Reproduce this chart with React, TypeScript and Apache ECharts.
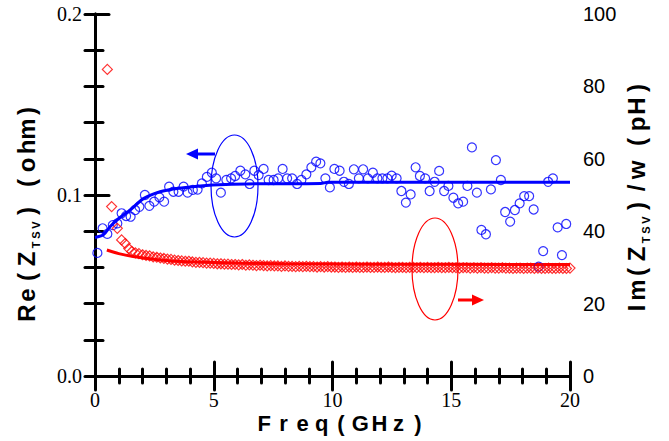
import React, { useEffect, useRef } from "react";
import * as echarts from "echarts";

// Re(Z_TSV) measured points [GHz, ohm]
const RE_POINTS: [number, number][] = [
  [0.1, 0.068], [0.32, 0.0816], [0.52, 0.0785], [0.75, 0.0834], [0.94, 0.0843],
  [1.12, 0.0899], [1.31, 0.0884], [1.5, 0.088], [1.69, 0.0917], [1.87, 0.0935],
  [2.1, 0.1], [2.29, 0.094], [2.49, 0.0963], [2.71, 0.0987], [2.91, 0.0963],
  [3.12, 0.1046], [3.3, 0.1018], [3.52, 0.1018], [3.73, 0.1046], [3.9, 0.1013],
  [4.12, 0.1028], [4.32, 0.103], [4.5, 0.1064], [4.71, 0.11], [4.92, 0.1123],
  [5.1, 0.1092], [5.3, 0.1013], [5.53, 0.1083], [5.73, 0.1092], [5.9, 0.1105],
  [6.12, 0.1134], [6.33, 0.1114], [6.51, 0.1061], [6.71, 0.1134], [6.89, 0.111],
  [7.1, 0.1144], [7.31, 0.1083], [7.52, 0.1083], [7.71, 0.1092], [7.9, 0.1144],
  [8.09, 0.1092], [8.3, 0.1092], [8.51, 0.1061], [8.69, 0.1083], [8.9, 0.1114],
  [9.11, 0.1153], [9.31, 0.1184], [9.49, 0.1175], [9.7, 0.1092], [9.89, 0.1042],
  [10.08, 0.1144], [10.3, 0.1134], [10.48, 0.1073], [10.69, 0.1061], [10.9, 0.1142],
  [11.11, 0.1092], [11.29, 0.1142], [11.49, 0.1092], [11.7, 0.1123], [11.89, 0.1092],
  [12.1, 0.1092], [12.31, 0.1092], [12.49, 0.1107], [12.7, 0.1092], [12.9, 0.1022],
  [13.09, 0.0958], [13.29, 0.1003], [13.5, 0.1153], [13.68, 0.1105], [13.9, 0.1092],
  [14.09, 0.1022], [14.3, 0.1073], [14.49, 0.1133], [14.7, 0.1022], [14.88, 0.105],
  [15.09, 0.0985], [15.29, 0.0954], [15.5, 0.0963], [15.68, 0.105], [15.87, 0.1263],
  [16.08, 0.1013], [16.27, 0.0807], [16.46, 0.0783], [16.67, 0.1031], [16.88, 0.1193],
  [17.09, 0.1083], [17.27, 0.0906], [17.48, 0.0853], [17.68, 0.0917], [17.88, 0.0954],
  [18.07, 0.0994], [18.28, 0.0994], [18.47, 0.092], [18.68, 0.0604], [18.87, 0.069],
  [19.08, 0.1073], [19.28, 0.1092], [19.48, 0.0821], [19.66, 0.0668], [19.84, 0.084],
];

// Re fit curve [GHz, ohm]
const RE_FIT: [number, number][] = [
  [0, 0.0765], [0.35, 0.078], [0.63, 0.0825], [1.0, 0.087], [1.48, 0.0917],
  [2.04, 0.098], [2.74, 0.1018], [3.45, 0.1036], [4.43, 0.105], [5.5, 0.1058],
  [7, 0.1062], [9.5, 0.1064], [9.8, 0.107], [20, 0.107],
];

// Im(Z_TSV)/w low-frequency points [GHz, pH]
const IM_EARLY: [number, number][] = [
  [0.52, 84.7], [0.7, 46.8], [0.94, 40.8], [1.12, 37.6], [1.27, 36.6], [1.42, 35.2],
];

// Im(Z_TSV)/w sweep: start, step (GHz) and values (pH)
const IM_START = 1.55;
const IM_STEP = 0.15;
const IM_VALUES: number[] = [
  34.4, 34.0, 33.8, 33.5, 33.3, 33.2, 32.9, 32.8, 32.6, 32.5,
  32.3, 32.2, 32.0, 31.9, 31.8, 31.7, 31.7, 31.5, 31.4, 31.4,
  31.3, 31.2, 31.2, 31.1, 31.0, 31.0, 30.9, 30.9, 30.8, 30.8,
  30.7, 30.8, 30.6, 30.7, 30.6, 30.5, 30.6, 30.5, 30.4, 30.5,
  30.4, 30.4, 30.3, 30.4, 30.3, 30.3, 30.2, 30.3, 30.2, 30.3,
  30.2, 30.2, 30.1, 30.2, 30.1, 30.2, 30.1, 30.1, 30.0, 30.1,
  30.0, 30.1, 30.0, 30.1, 30.0, 30.0, 30.1, 30.0, 30.0, 30.1,
  30.0, 30.0, 30.1, 30.0, 29.9, 30.0, 30.0, 29.9, 30.0, 30.0,
  29.9, 30.0, 29.9, 30.0, 29.9, 29.9, 30.0, 29.9, 29.9, 30.0,
  29.9, 29.9, 29.8, 29.9, 29.9, 29.8, 29.9, 29.8, 29.9, 29.8,
  29.8, 29.9, 29.8, 29.8, 29.9, 29.8, 29.8, 29.7, 29.8, 29.8,
  29.7, 29.8, 29.8, 29.7, 29.8, 29.7, 29.7, 29.8, 29.7, 29.7,
  29.8, 29.7, 29.7, 29.8,
];

// Im fit curve [GHz, pH]
const IM_FIT: [number, number][] = [
  [0.5, 34.8], [1.0, 33.8], [1.6, 33.0], [2.4, 32.3], [3.2, 31.8],
  [4.7, 31.4], [6, 31.2], [8, 31.0], [12, 30.9], [20, 30.8],
];

const X_TICKS_MAX = 20;
const LEFT_MAX = 0.2;
const RIGHT_MAX = 100;

const BLUE = "#0000ff";
const RED = "#ff0000";

function titleRich(color: string, size: number, w: number) {
  return {
    c: {
      fontSize: size, fontWeight: "bold", fontFamily: "Liberation Sans", color,
      width: w, align: "center", lineHeight: 30, verticalAlign: "middle",
    },
    s: {
      fontSize: 11, fontWeight: "bold", fontFamily: "Liberation Sans", color,
      width: 10, align: "center", lineHeight: 20, verticalAlign: "bottom",
    },
    sp: { width: 10, align: "center", lineHeight: 30, fontSize: size },
  };
}

export default function App() {
  const ref = useRef<HTMLDivElement>(null);
  useEffect(() => {
    document.body.style.margin = "0";
    const chart = echarts.init(ref.current!, null, { renderer: "svg" });
    const imPoints = [
      ...IM_EARLY,
      ...IM_VALUES.map((v, i) => [+(IM_START + i * IM_STEP).toFixed(2), v]),
    ];
    const axisLine = { show: true, lineStyle: { color: "#000", width: 3 } };
    const tickStyle = { color: "#000", width: 3, cap: "round" };
    const xBase = {
      type: "value", min: 0, max: X_TICKS_MAX, interval: 5,
      axisLine, splitLine: { show: false },
      axisTick: { show: true, inside: true, length: 14, lineStyle: tickStyle },
      minorTick: { show: true, splitNumber: 5, length: 7, lineStyle: tickStyle },
      minorSplitLine: { show: false },
    };
    chart.setOption({
      animation: false,
      backgroundColor: "#fff",
      grid: { left: 95, right: 99, top: 14, bottom: 65, containLabel: false },
      xAxis: [
        {
          ...xBase, position: "bottom",
          axisLabel: { fontFamily: "Liberation Serif", fontSize: 20, color: "#000", margin: 14 },
        },
        { ...xBase, position: "top", axisLabel: { show: false } },
      ],
      yAxis: [
        {
          type: "value", min: 0, max: LEFT_MAX, interval: 0.1, position: "left",
          axisLine, splitLine: { show: false },
          axisTick: { show: true, inside: true, length: 14, lineStyle: tickStyle },
          minorTick: { show: true, splitNumber: 5, length: 8, lineStyle: tickStyle },
          axisLabel: {
            fontFamily: "Liberation Serif", fontSize: 20, color: "#000", margin: 13,
            formatter: (v: number) => v.toFixed(1),
          },
        },
        {
          type: "value", min: 0, max: RIGHT_MAX, interval: 20, position: "right",
          axisLine, splitLine: { show: false },
          axisTick: { show: true, inside: true, length: 10, lineStyle: tickStyle },
          minorTick: { show: true, splitNumber: 2, length: 10, lineStyle: tickStyle },
          axisLabel: { fontFamily: "Liberation Sans", fontSize: 20, color: "#000", margin: 13 },
        },
      ],
      series: [
        {
          type: "line", data: RE_FIT, xAxisIndex: 0, yAxisIndex: 0, smooth: 0.3,
          showSymbol: false, lineStyle: { color: BLUE, width: 3 }, z: 2,
        },
        {
          type: "line", data: IM_FIT, xAxisIndex: 0, yAxisIndex: 1, smooth: 0.3,
          showSymbol: false, lineStyle: { color: RED, width: 3 }, z: 2,
        },
        {
          type: "scatter", data: RE_POINTS, xAxisIndex: 0, yAxisIndex: 0,
          symbol: "circle", symbolSize: 9, clip: false,
          itemStyle: { color: "rgba(0,0,0,0)", borderColor: BLUE, borderWidth: 1.2 }, z: 3,
        },
        {
          type: "scatter", data: imPoints, xAxisIndex: 0, yAxisIndex: 1,
          symbol: "diamond", symbolSize: 10, clip: false,
          itemStyle: { color: "rgba(0,0,0,0)", borderColor: RED, borderWidth: 1.2 }, z: 3,
        },
      ],
      graphic: [
        { type: "ellipse", shape: { cx: 234.5, cy: 186, rx: 23.5, ry: 51 },
          style: { fill: "none", stroke: BLUE, lineWidth: 1.2 }, z: 10 },
        { type: "line", shape: { x1: 215, y1: 154, x2: 196, y2: 154 },
          style: { stroke: BLUE, lineWidth: 3 }, z: 10 },
        { type: "polygon", shape: { points: [[186, 154], [198, 148.5], [198, 159.5]] },
          style: { fill: BLUE }, z: 10 },
        { type: "ellipse", shape: { cx: 435, cy: 269, rx: 23, ry: 51 },
          style: { fill: "none", stroke: RED, lineWidth: 1.2 }, z: 10 },
        { type: "line", shape: { x1: 458, y1: 300, x2: 473, y2: 300 },
          style: { stroke: RED, lineWidth: 3 }, z: 10 },
        { type: "polygon", shape: { points: [[484, 300], [472, 294.5], [472, 305.5]] },
          style: { fill: RED }, z: 10 },
        {
          type: "text", x: 26, y: 212, rotation: Math.PI / 2, z: 10,
          style: {
            text: "{c|R}{c|e}{c|(}{c|Z}{s|T}{s|S}{s|V}{c|)}{sp| }{c|(}{c|o}{c|h}{c|m}{c|)}",
            rich: titleRich(BLUE, 24, 18), align: "center", verticalAlign: "middle",
          },
        },
        {
          type: "text", x: 636, y: 198, rotation: Math.PI / 2, z: 10,
          style: {
            text: "{c|I}{c|m}{c|(}{c|Z}{s|T}{s|S}{s|V}{c|)}{c|/}{c|w}{sp| }{c|(}{c|p}{c|H}{c|)}",
            rich: titleRich(RED, 24, 18), align: "center", verticalAlign: "middle",
          },
        },
        {
          type: "text", x: 341, y: 423, z: 10,
          style: {
            text: "{c|F}{c|r}{c|e}{c|q}{c|(}{c|G}{c|H}{c|z}{c|)}",
            rich: titleRich("#000", 22, 19.2), align: "center", verticalAlign: "middle",
          },
        },
      ],
    });
    return () => chart.dispose();
  }, []);
  return <div ref={ref} style={{ width: 669, height: 441 }} />;
}
